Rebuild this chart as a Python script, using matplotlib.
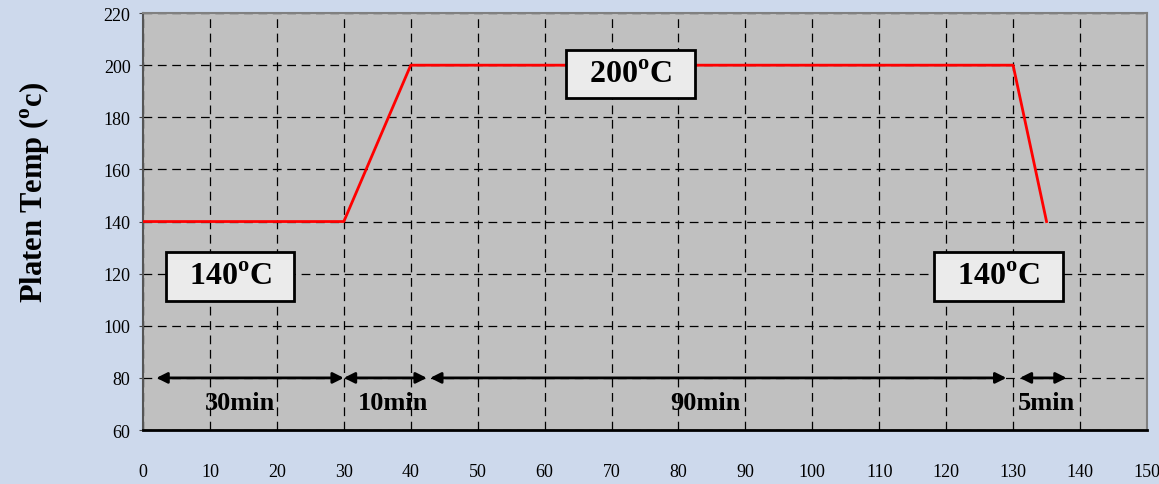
import matplotlib.pyplot as plt
from matplotlib.patches import Rectangle

# cure profile
time_min = [0, 30, 40, 130, 135]
platen_temp = [140, 140, 200, 200, 140]

# duration arrows (start, end) at y=80 and their labels
arrow_spans = [(2, 30), (30, 42.4), (42.9, 129), (131, 138)]
span_labels = ['30min', '10min', '90min', '5min']
span_label_x = [14.5, 37.3, 84, 135]

# temperature boxes
box_labels = ['140', '200', '140']
box_x = [13, 72.8, 127.8]
box_y = [119, 196.6, 119]

plt.rcParams['mathtext.fontset'] = 'custom'
plt.rcParams['mathtext.rm'] = 'Liberation Serif'
plt.rcParams['mathtext.bf'] = 'Liberation Serif:bold'

fig = plt.figure(figsize=(11.59, 4.85), dpi=100, facecolor='#cdd9ec')
ax = fig.add_axes([0.1234, 0.1113, 0.8662, 0.8597])
ax.set_facecolor('#c0c0c0')

ax.plot(time_min, platen_temp, color='#ff0000', lw=2, zorder=3)

ax.set_xlim(0, 150)
ax.set_ylim(60, 220)
ax.set_xticks(range(0, 151, 10))
ax.set_yticks(range(60, 221, 20))
ax.grid(True, color='black', linestyle=(0, (7, 4.5)), lw=0.9)

for lab in ax.get_xticklabels() + ax.get_yticklabels():
    lab.set_fontfamily('Liberation Serif')
    lab.set_fontsize(13)
ax.tick_params(axis='x', length=0, pad=24)
ax.tick_params(axis='y', length=3, pad=6, color='#444444')

ax.spines['left'].set_color('#555555')
ax.spines['left'].set_linewidth(1.5)
ax.spines['bottom'].set_color('black')
ax.spines['bottom'].set_linewidth(2)
for s in ['top', 'right']:
    ax.spines[s].set_color('#808080')
    ax.spines[s].set_linewidth(1.5)

fig.text(34 / 1159, 1 - 193 / 485, r'Platen Temp ($^{\mathbf{o}}$c)', rotation=90,
         ha='center', va='center', fontfamily='Liberation Serif',
         fontweight='bold', fontsize=22)

for (x0, x1), lab, lx in zip(arrow_spans, span_labels, span_label_x):
    ax.annotate('', xy=(x1, 80), xytext=(x0, 80),
                arrowprops=dict(arrowstyle='<|-|>', color='black', lw=2,
                                mutation_scale=16, shrinkA=0, shrinkB=0),
                zorder=4)
    ax.text(lx, 70.5, lab, ha='center', va='center', fontfamily='Liberation Serif',
            fontweight='bold', fontsize=19, zorder=4)

box_w, box_h = 19.2, 18.6
for lab, bx, by in zip(box_labels, box_x, box_y):
    ax.add_patch(Rectangle((bx - box_w / 2, by - box_h / 2), box_w, box_h,
                           facecolor='#ebebeb', edgecolor='black', lw=2, zorder=5))
    ax.text(bx, by, lab + r'$^{\mathbf{o}}$C', ha='center', va='center',
            fontfamily='Liberation Serif', fontweight='bold', fontsize=23, zorder=6)

fig.savefig('out.png', dpi=100, facecolor=fig.get_facecolor())
